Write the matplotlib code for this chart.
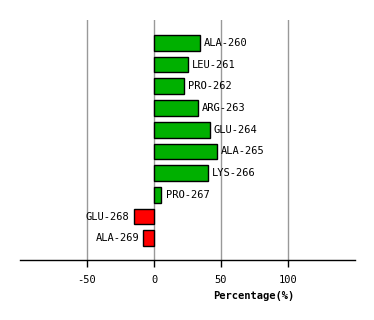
import matplotlib
matplotlib.use("Agg")
import matplotlib.pyplot as plt

# dados
residues = ["ALA-260", "LEU-261", "PRO-262", "ARG-263", "GLU-264",
            "ALA-265", "LYS-266", "PRO-267", "GLU-268", "ALA-269"]
percent = [34, 25.5, 22.5, 32.5, 41.5, 47, 40, 5.5, -15, -8]
xticks = [-50, 0, 50, 100]

fig = plt.figure(figsize=(3.74, 3.2), dpi=100)
ax = fig.add_axes([20 / 374, 1 - 260 / 320, 335 / 374, 240 / 320])

ypos = list(range(len(residues)))
colors = ["#00b000" if v >= 0 else "#ff0000" for v in percent]
ax.barh(ypos, percent, height=0.72, color=colors, edgecolor="black",
        linewidth=1, zorder=3)

for y, v, name in zip(ypos, percent, residues):
    if v >= 0:
        ax.annotate(name, (v, y), xytext=(3, 0), textcoords="offset points",
                    ha="left", va="center", family="DejaVu Sans Mono",
                    fontsize=7.5)
    else:
        ax.annotate(name, (v, y), xytext=(-3, 0), textcoords="offset points",
                    ha="right", va="center", family="DejaVu Sans Mono",
                    fontsize=7.5)

ax.set_xlim(-100, 150)
ax.set_ylim(len(residues) - 0.0, -1.05)
ax.set_xticks(xticks)
ax.set_xticklabels([str(t) for t in xticks], family="DejaVu Sans Mono",
                   fontsize=7.5)
ax.set_yticks([])
ax.grid(axis="x", color="#999999", linewidth=1, zorder=0)
for s in ["left", "right", "top"]:
    ax.spines[s].set_visible(False)
ax.spines["bottom"].set_linewidth(1)
ax.tick_params(axis="x", length=5, width=1, pad=6)

ax.set_xlabel("Percentage(%)", family="DejaVu Sans Mono", fontsize=7.5,
              fontweight="bold")
ax.xaxis.set_label_coords((254 - 20) / 335, -0.13)

fig.savefig("out.png", dpi=100)
